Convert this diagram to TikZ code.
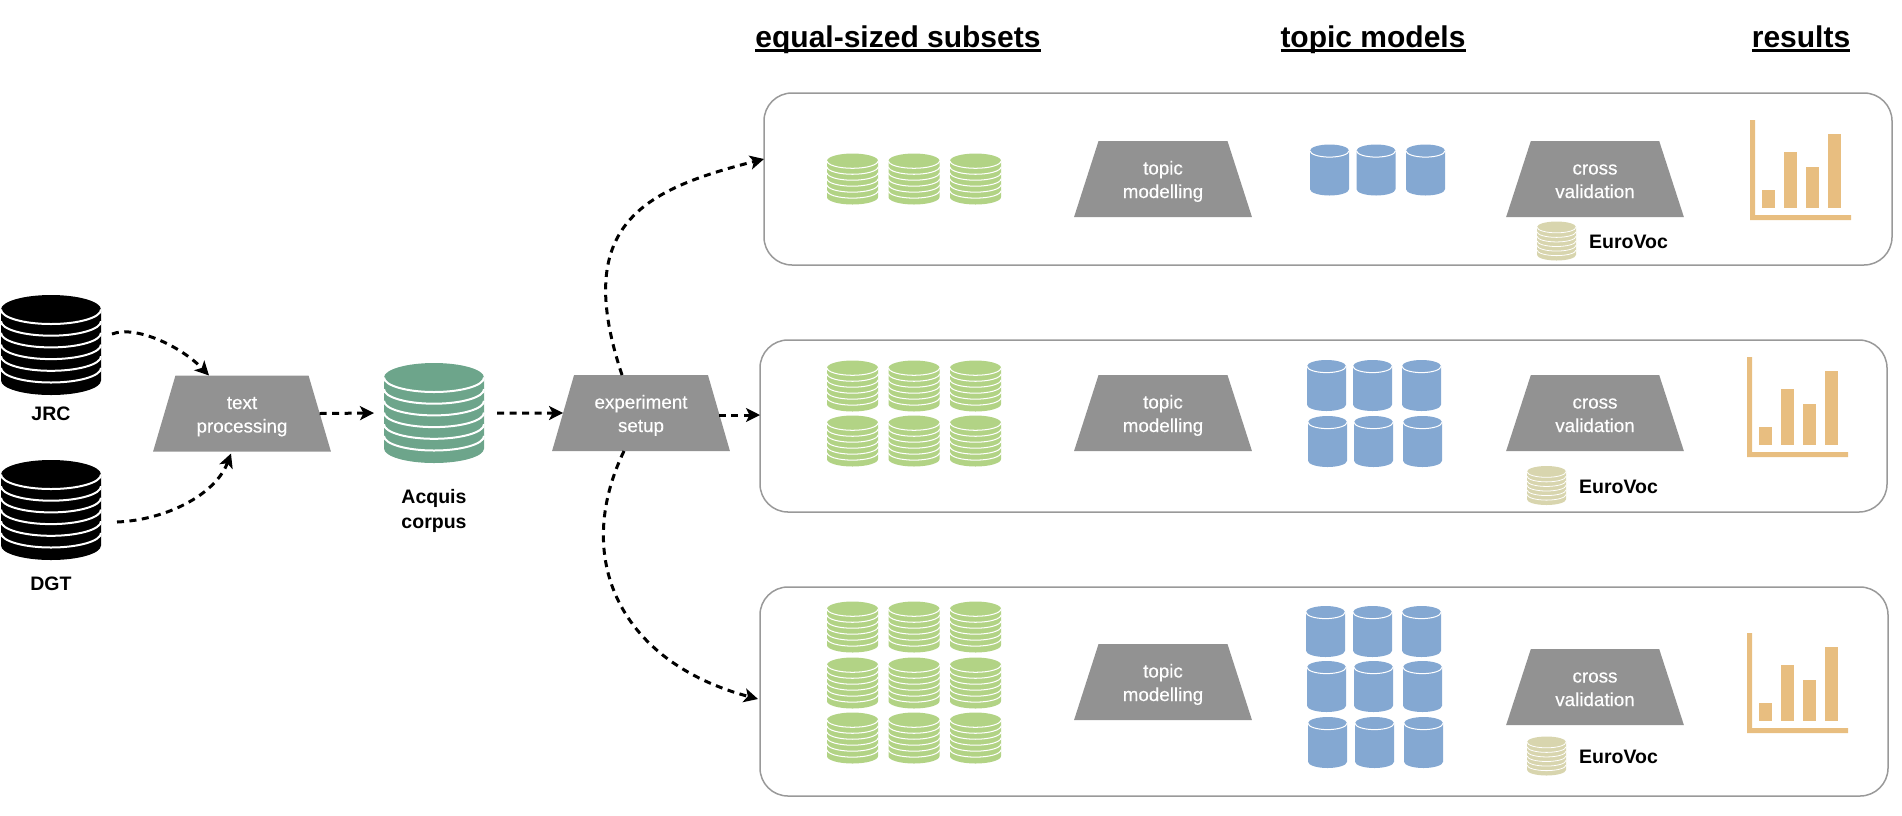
\documentclass[tikz,border=0pt]{standalone}
\usepackage{fontspec}
\setmainfont{Liberation Sans}
\newfontfamily\procfont[FakeBold=0.4]{Liberation Sans}
\usetikzlibrary{arrows.meta,shapes.geometric,positioning}

\definecolor{procgray}{HTML}{929292}
\definecolor{boxgray}{HTML}{999999}
\definecolor{corpusgreen}{HTML}{6DA58B}
\definecolor{subsetgreen}{HTML}{B2D385}
\definecolor{modelblue}{HTML}{84A8D2}
\definecolor{chartorange}{HTML}{E8BE80}
\definecolor{vocabkhaki}{HTML}{D8D5AE}

\tikzset{
    panel/.style={draw=boxgray, line width=1.5pt, rounded corners=28pt, inner sep=0, outer sep=0},
    procbox/.style={trapezium, trapezium left angle=72, trapezium right angle=72, trapezium stretches=true,
        fill=procgray, text=white, minimum width=178pt, minimum height=76pt, inner sep=0, outer sep=0,
        align=center, font=\fontsize{18.8}{23.5}\selectfont\procfont},
    dbname/.style={align=center, inner sep=0, font=\fontsize{19.5}{25}\selectfont\bfseries},
    heading/.style={anchor=base, font=\fontsize{30}{35}\selectfont\bfseries},
    flow/.style={-{Stealth[length=14pt,width=14pt,inset=3.5pt]}, line width=3pt, dash pattern=on 7pt off 5.5pt}
}

% heading text with a rule that crosses its descenders
\newcommand{\headul}[1]{\setbox0\hbox{#1}\rlap{\rule[-4.5pt]{\wd0}{2.2pt}}\box0}

% two lines of a process box, with fixed room above and below
\newcommand{\proclines}[2]{\rule{0pt}{19pt}#1\\#2\rule[-4.5pt]{0pt}{4.5pt}}

% name, x, y, size, colour
\newcommand{\dbstack}[5]{
    \node[minimum size=#4pt, inner sep=0, outer sep=0] (#1) at (#2,#3) {};
    \begin{scope}[shift={(#2,#3)}, scale=#4/100]
        \fill[#5] (-50,-35.5) -- (-50,35.5) arc[start angle=180, end angle=0, x radius=50, y radius=14.5]
            -- (50,-35.5) arc[start angle=0, end angle=-180, x radius=50, y radius=14.5] -- cycle;
        \foreach \k in {0,...,5}
            \draw[white, line width=#4*0.02pt] (-50,{-35.5+\k*11.7}) arc[start angle=180, end angle=0, x radius=50, y radius=14.5];
    \end{scope}
}

% name, x, y
\newcommand{\dbcyl}[3]{
    \node[minimum width=39pt, minimum height=51pt, inner sep=0, outer sep=0] (#1) at (#2,#3) {};
    \begin{scope}[shift={(#2,#3)}]
        \fill[modelblue] (-19.5,-19.2) -- (-19.5,19.2) arc[start angle=180, end angle=0, x radius=19.5, y radius=6.3]
            -- (19.5,-19.2) arc[start angle=0, end angle=-180, x radius=19.5, y radius=6.3] -- cycle;
        \draw[white, line width=1pt] (-19.5,-19.2) arc[start angle=180, end angle=0, x radius=19.5, y radius=6.3];
    \end{scope}
}

% shift x, shift y
\newcommand{\resultchart}[2]{
    \begin{scope}[shift={(#1,#2)}]
        \fill[chartorange] (1750,120) -- (1755,120) -- (1755,215) -- (1851,215) -- (1851,220) -- (1750,220) -- cycle;
        \fill[chartorange] (1762,190) rectangle (1775,208);
        \fill[chartorange] (1784,152) rectangle (1797,208);
        \fill[chartorange] (1806,167) rectangle (1819,208);
        \fill[chartorange] (1828,134) rectangle (1841,208);
    \end{scope}
}

\begin{document}
\begin{tikzpicture}[x=1pt, y=-1pt]
    \useasboundingbox (0,0) rectangle (1902,815);

    \node [heading] (subsets) at (898,47) {\headul{equal-sized subsets}};
    \node [heading] (models) at (1373,47) {\headul{topic models}};
    \node [heading] (results) at (1801,47) {\headul{results}};

    \node [panel, minimum width=1128pt, minimum height=172pt] (panelA) at (1328,179) {};
    \node [panel, minimum width=1127pt, minimum height=172pt] (panelB) at (1323.5,426) {};
    \node [panel, minimum width=1128pt, minimum height=209pt] (panelC) at (1324,691.5) {};

    \dbstack{jrc}{51}{345}{100}{black}
    \dbstack{dgt}{51}{510}{100}{black}
    \dbstack{acquis}{434}{413}{100}{corpusgreen}

    \node [dbname] (jrclabel) at (51,414) {JRC};
    \node [dbname] (dgtlabel) at (51,584) {DGT};
    \node [dbname] (acquislabel) at (434,511) {Acquis\\corpus};

    \node [procbox] (textproc) at (242,413.5) {\proclines{text}{processing}};
    \node [procbox] (setup) at (641,413) {\proclines{experiment}{setup}};

    % subsets
    \foreach \x [count=\c] in {852.5,914,975.5}
        \dbstack{subA\c}{\x}{179}{51}{subsetgreen};
    \foreach \y [count=\r] in {386,441}
        \foreach \x [count=\c] in {852.5,914,975.5}
            \dbstack{subB\r\c}{\x}{\y}{51}{subsetgreen};
    \foreach \y [count=\r] in {627,683,738}
        \foreach \x [count=\c] in {852.5,914,975.5}
            \dbstack{subC\r\c}{\x}{\y}{51}{subsetgreen};

    \node [procbox] (topicA) at (1163,179) {\proclines{topic}{modelling}};
    \node [procbox] (topicB) at (1163,413) {\proclines{topic}{modelling}};
    \node [procbox] (topicC) at (1163,682) {\proclines{topic}{modelling}};

    % models
    \foreach \x [count=\c] in {1329.5,1376,1425.5}
        \dbcyl{modelA\c}{\x}{170};
    \foreach \y/\dx [count=\r] in {385.5/0,441.5/1}
        \foreach \x [count=\c] in {1326.5,1372.5,1421.5}
            \dbcyl{modelB\r\c}{\x+\dx}{\y};
    \foreach \y/\dx [count=\r] in {631.5/0,686.5/1,742.5/2}
        \foreach \x [count=\c] in {1325.5,1372.5,1421.5}
            \dbcyl{modelC\r\c}{\x+\dx}{\y};

    \node [procbox] (crossA) at (1595,179) {\proclines{cross}{validation}};
    \node [procbox] (crossB) at (1595,413) {\proclines{cross}{validation}};
    \node [procbox] (crossC) at (1595,687) {\proclines{cross}{validation}};

    \dbstack{euroA}{1556.5}{241}{39}{vocabkhaki}
    \dbstack{euroB}{1546.5}{485.5}{39}{vocabkhaki}
    \dbstack{euroC}{1546.5}{756}{39}{vocabkhaki}
    \node [dbname, anchor=west] (euroAlabel) at (1589,242) {EuroVoc};
    \node [dbname, anchor=west] (euroBlabel) at (1579,487) {EuroVoc};
    \node [dbname, anchor=west] (euroClabel) at (1579,757) {EuroVoc};

    \resultchart{0}{0}
    \resultchart{-3}{237}
    \resultchart{-3}{513}

    \draw[flow] ([xshift=11pt,yshift=11pt]jrc.east) .. controls +(23,-9) and +(-29,-30) .. ([xshift=-33pt]textproc.north);
    \draw[flow] ([xshift=16pt,yshift=-12pt]dgt.east) .. controls +(48,-2) and +(-16,42) .. ([xshift=-11pt,yshift=-2pt]textproc.south);
    \draw[flow] (textproc.east) -- ([xshift=-10pt]acquis.west);
    \draw[flow] ([xshift=13pt]acquis.east) -- (setup.west);
    \draw[flow] ([yshift=-2pt]setup.east) -- ([yshift=-2pt]setup.east -| panelB.west);
    \draw[flow] ([xshift=-19pt]setup.north) .. controls +(-50,-150) and +(-122,31) .. ([yshift=20pt]panelA.west);
    \draw[flow] ([xshift=-17pt]setup.south) .. controls +(-52,108) and +(-138,-37) .. ([xshift=-2pt,yshift=-7.5pt]panelC.west);
\end{tikzpicture}
\end{document}
